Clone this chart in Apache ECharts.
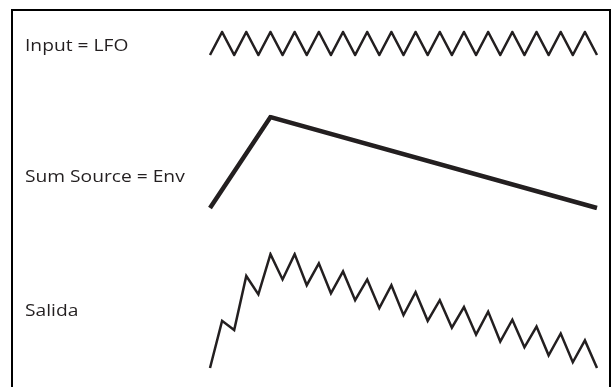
<!DOCTYPE html>
<html>
<head>
<meta charset="utf-8">
<script src="https://cdn.jsdelivr.net/npm/echarts@6/dist/echarts.min.js"></script>
<style>html,body{margin:0;padding:0;background:#fff}#c{width:612px;height:387px}</style>
</head>
<body>
<div id="c"></div>
<script>
const labels = ['Input = LFO', 'Sum Source = Env', 'Salida'];
const steps = [0,1,2,3,4,5,6,7,8,9,10,11,12,13,14,15,16,17,18,19,20,21,22,23,24,25,26,27,28,29,30,31,32];
const lfoValues = [0,1,0,1,0,1,0,1,0,1,0,1,0,1,0,1,0,1,0,1,0,1,0,1,0,1,0,1,0,1,0,1,0];
const envSteps = [0, 5, 32];
const envValues = [0, 1, 0];
const salidaValues = [0,4.1,3.3,8.0,6.4,9.9,7.7,9.9,7.2,9.1,6.5,8.4,5.9,7.7,5.2,7.2,4.6,6.6,4.1,5.9,3.5,5.3,2.9,4.9,2.3,4.2,1.8,3.6,1.1,3.0,0.5,2.4,0];

const ink = '#231f20';
const chart = echarts.init(document.getElementById('c'), null, {renderer: 'canvas'});
const grids = [
  {left: 210, width: 387, top: 32, height: 23},
  {left: 210, width: 387, top: 117, height: 91},
  {left: 210, width: 387, top: 253, height: 115}
];
const yMax = [1, 1, 10];
const labelY = [46, 177, 311];
const option = {
  animation: false,
  grid: grids,
  xAxis: grids.map((g, i) => ({type: 'value', gridIndex: i, min: 0, max: 32, show: false})),
  yAxis: grids.map((g, i) => ({type: 'value', gridIndex: i, min: 0, max: yMax[i], show: false})),
  series: [
    {type: 'line', xAxisIndex: 0, yAxisIndex: 0, symbol: 'none',
     data: steps.map((s, i) => [s, lfoValues[i]]),
     lineStyle: {color: ink, width: 2.5, join: 'miter', cap: 'butt'}},
    {type: 'line', xAxisIndex: 1, yAxisIndex: 1, symbol: 'none',
     data: envSteps.map((s, i) => [s, envValues[i]]),
     lineStyle: {color: ink, width: 4.5, join: 'miter', cap: 'butt'}},
    {type: 'line', xAxisIndex: 2, yAxisIndex: 2, symbol: 'none',
     data: steps.map((s, i) => [s, salidaValues[i]]),
     lineStyle: {color: ink, width: 2.5, join: 'miter', cap: 'butt'}}
  ],
  graphic: [
    {type: 'rect', shape: {x: 12, y: 10, width: 598, height: 400},
     style: {fill: 'none', stroke: '#000', lineWidth: 2}}
  ].concat(labels.map((t, i) => ({
    type: 'text', x: 25, y: labelY[i], scaleX: 1.2, scaleY: 1,
    style: {text: t, x: 0, y: 0, fill: ink, font: '16px "Open Sans"',
            textAlign: 'left', textVerticalAlign: 'middle'}
  })))
};
chart.setOption(option);
</script>
</body>
</html>
